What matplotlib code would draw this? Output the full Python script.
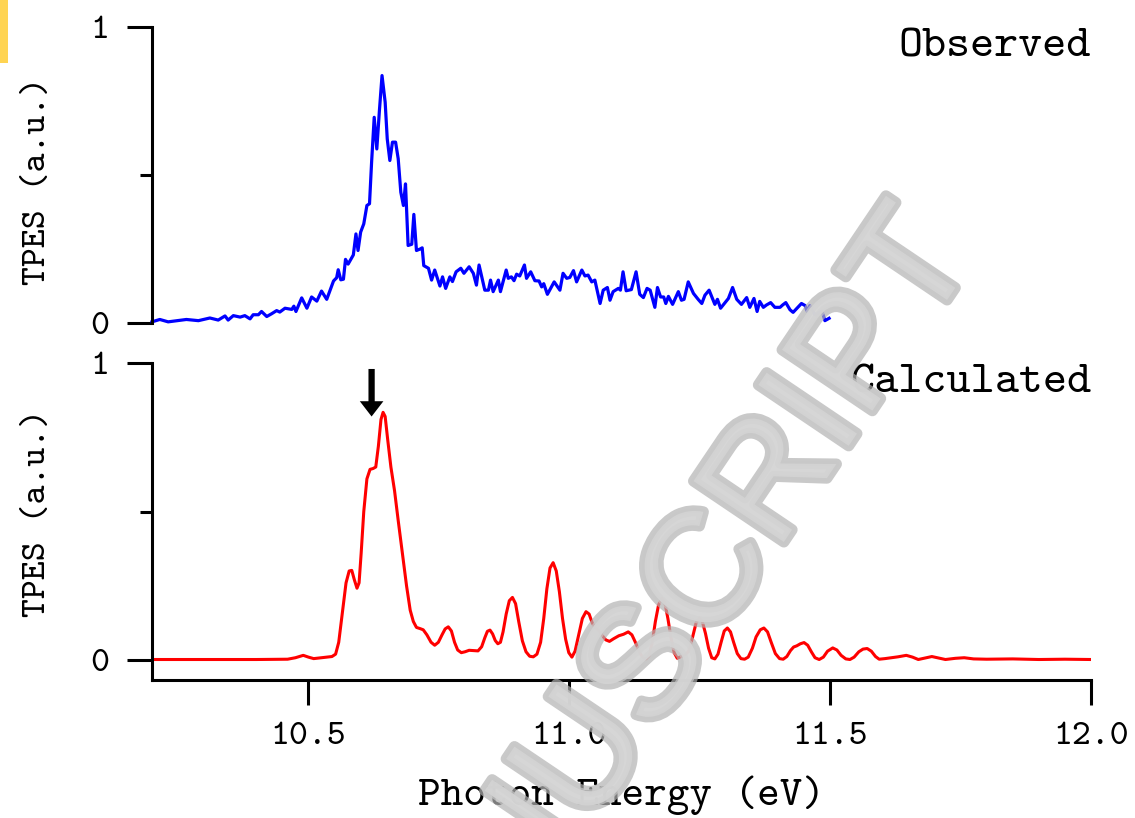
import matplotlib
matplotlib.use("Agg")
import matplotlib.pyplot as plt
import matplotlib.patheffects as pe
from matplotlib.patches import Rectangle
import numpy as np

# observed TPES (blue)
obs_e = [10.200, 10.215, 10.231, 10.266, 10.289, 10.311, 10.327, 10.340, 10.346, 10.356,
         10.369, 10.378, 10.388, 10.394, 10.404, 10.410, 10.420, 10.429, 10.439, 10.445,
         10.455, 10.468, 10.472, 10.476, 10.487, 10.497, 10.506, 10.516, 10.525, 10.535,
         10.548, 10.554, 10.557, 10.562, 10.567, 10.571, 10.576, 10.586, 10.591, 10.595,
         10.600, 10.606, 10.612, 10.617, 10.621, 10.626, 10.631, 10.636, 10.641, 10.647,
         10.651, 10.656, 10.661, 10.667, 10.672, 10.677, 10.682, 10.686, 10.691, 10.698,
         10.702, 10.707, 10.714, 10.718, 10.721, 10.730, 10.736, 10.742, 10.752, 10.757,
         10.763, 10.771, 10.776, 10.783, 10.792, 10.798, 10.808, 10.816, 10.822, 10.827,
         10.838, 10.845, 10.849, 10.854, 10.864, 10.868, 10.879, 10.883, 10.889, 10.894,
         10.899, 10.905, 10.914, 10.918, 10.926, 10.934, 10.942, 10.947, 10.951, 10.958,
         10.971, 10.982, 10.988, 10.995, 11.001, 11.008, 11.014, 11.024, 11.030, 11.036,
         11.043, 11.049, 11.059, 11.065, 11.073, 11.078, 11.084, 11.094, 11.098, 11.103,
         11.109, 11.119, 11.128, 11.135, 11.142, 11.149, 11.155, 11.164, 11.169, 11.175,
         11.181, 11.185, 11.190, 11.198, 11.209, 11.215, 11.220, 11.228, 11.238, 11.247,
         11.254, 11.260, 11.268, 11.279, 11.284, 11.290, 11.305, 11.313, 11.321, 11.330,
         11.340, 11.346, 11.354, 11.360, 11.365, 11.372, 11.378, 11.386, 11.394, 11.404,
         11.409, 11.415, 11.423, 11.429, 11.445, 11.452, 11.456, 11.461, 11.471, 11.484,
         11.490, 11.498]
obs_i = [0.004, 0.012, 0.004, 0.012, 0.008, 0.017, 0.010, 0.024, 0.010, 0.025,
         0.020, 0.025, 0.014, 0.028, 0.028, 0.039, 0.022, 0.031, 0.042, 0.037,
         0.050, 0.046, 0.057, 0.039, 0.085, 0.050, 0.088, 0.074, 0.108, 0.080,
         0.142, 0.153, 0.180, 0.146, 0.148, 0.215, 0.199, 0.230, 0.301, 0.245,
         0.307, 0.335, 0.397, 0.403, 0.543, 0.695, 0.588, 0.718, 0.836, 0.746,
         0.622, 0.549, 0.611, 0.611, 0.555, 0.442, 0.397, 0.470, 0.262, 0.266,
         0.367, 0.245, 0.250, 0.254, 0.194, 0.185, 0.145, 0.179, 0.125, 0.156,
         0.117, 0.156, 0.140, 0.173, 0.185, 0.168, 0.190, 0.168, 0.128, 0.196,
         0.111, 0.111, 0.145, 0.106, 0.145, 0.106, 0.179, 0.151, 0.156, 0.143,
         0.165, 0.159, 0.196, 0.151, 0.173, 0.143, 0.142, 0.122, 0.133, 0.097,
         0.139, 0.111, 0.168, 0.151, 0.154, 0.177, 0.139, 0.179, 0.159, 0.162,
         0.139, 0.145, 0.066, 0.111, 0.120, 0.077, 0.106, 0.117, 0.111, 0.173,
         0.109, 0.113, 0.173, 0.097, 0.086, 0.117, 0.111, 0.053, 0.120, 0.088,
         0.088, 0.066, 0.090, 0.063, 0.106, 0.077, 0.080, 0.139, 0.100, 0.080,
         0.066, 0.094, 0.111, 0.063, 0.080, 0.050, 0.083, 0.120, 0.080, 0.063,
         0.086, 0.053, 0.083, 0.039, 0.073, 0.053, 0.061, 0.069, 0.053, 0.053,
         0.061, 0.069, 0.045, 0.036, 0.066, 0.059, 0.039, 0.059, 0.027, 0.042,
         0.008, 0.016]

# calculated TPES (red)
calc_e = [10.200, 10.300, 10.400, 10.460, 10.475, 10.490, 10.500, 10.510, 10.525, 10.545,
          10.552, 10.558, 10.565, 10.572, 10.578, 10.583, 10.588, 10.593, 10.597, 10.601,
          10.606, 10.612, 10.618, 10.624, 10.629, 10.634, 10.639, 10.643, 10.647, 10.652,
          10.658, 10.665, 10.672, 10.680, 10.688, 10.695, 10.701, 10.707, 10.714, 10.720,
          10.727, 10.735, 10.742, 10.749, 10.756, 10.762, 10.768, 10.774, 10.780, 10.786,
          10.793, 10.800, 10.808, 10.816, 10.825, 10.832, 10.838, 10.843, 10.848, 10.853,
          10.858, 10.863, 10.868, 10.873, 10.879, 10.885, 10.891, 10.897, 10.903, 10.910,
          10.917, 10.924, 10.931, 10.938, 10.945, 10.951, 10.957, 10.963, 10.969, 10.975,
          10.981, 10.987, 10.993, 10.999, 11.005, 11.011, 11.018, 11.025, 11.032, 11.038,
          11.044, 11.050, 11.056, 11.062, 11.070, 11.077, 11.085, 11.095, 11.104, 11.113,
          11.120, 11.128, 11.135, 11.141, 11.147, 11.153, 11.159, 11.165, 11.171, 11.177,
          11.183, 11.189, 11.195, 11.201, 11.207, 11.214, 11.222, 11.229, 11.236, 11.243,
          11.249, 11.255, 11.261, 11.267, 11.273, 11.279, 11.285, 11.291, 11.297, 11.303,
          11.309, 11.315, 11.322, 11.329, 11.336, 11.343, 11.351, 11.358, 11.366, 11.373,
          11.380, 11.387, 11.395, 11.403, 11.410, 11.417, 11.424, 11.430, 11.436, 11.443,
          11.450, 11.457, 11.464, 11.471, 11.479, 11.487, 11.495, 11.505, 11.513, 11.521,
          11.530, 11.538, 11.546, 11.555, 11.563, 11.571, 11.579, 11.587, 11.594, 11.605,
          11.617, 11.630, 11.646, 11.658, 11.669, 11.682, 11.695, 11.708, 11.721, 11.740,
          11.757, 11.775, 11.800, 11.850, 11.900, 11.950, 12.000]
calc_i = [0.002, 0.002, 0.002, 0.003, 0.008, 0.016, 0.010, 0.005, 0.008, 0.012,
          0.020, 0.060, 0.160, 0.260, 0.300, 0.302, 0.270, 0.242, 0.260, 0.360,
          0.500, 0.610, 0.642, 0.645, 0.650, 0.720, 0.810, 0.834, 0.820, 0.740,
          0.650, 0.570, 0.470, 0.360, 0.250, 0.168, 0.130, 0.110, 0.106, 0.102,
          0.085, 0.060, 0.050, 0.060, 0.085, 0.105, 0.112, 0.098, 0.060, 0.034,
          0.025, 0.028, 0.033, 0.032, 0.031, 0.045, 0.075, 0.097, 0.101, 0.088,
          0.066, 0.055, 0.060, 0.095, 0.155, 0.200, 0.211, 0.190, 0.130, 0.065,
          0.028, 0.013, 0.011, 0.020, 0.060, 0.140, 0.240, 0.310, 0.328, 0.300,
          0.230, 0.140, 0.070, 0.025, 0.010, 0.030, 0.085, 0.140, 0.163, 0.155,
          0.125, 0.108, 0.100, 0.085, 0.068, 0.063, 0.072, 0.082, 0.087, 0.095,
          0.085, 0.055, 0.025, 0.008, 0.004, 0.015, 0.060, 0.130, 0.185, 0.209,
          0.195, 0.140, 0.075, 0.025, 0.006, 0.012, 0.018, 0.030, 0.075, 0.125,
          0.142, 0.130, 0.090, 0.040, 0.008, 0.004, 0.020, 0.060, 0.098, 0.108,
          0.095, 0.060, 0.022, 0.005, 0.003, 0.010, 0.040, 0.078, 0.102, 0.108,
          0.095, 0.060, 0.022, 0.005, 0.003, 0.012, 0.032, 0.044, 0.048, 0.055,
          0.059, 0.050, 0.028, 0.008, 0.002, 0.010, 0.030, 0.041, 0.034, 0.016,
          0.004, 0.002, 0.010, 0.028, 0.037, 0.039, 0.030, 0.012, 0.003, 0.005,
          0.008, 0.011, 0.016, 0.010, 0.002, 0.007, 0.012, 0.007, 0.002, 0.006,
          0.008, 0.004, 0.003, 0.004, 0.002, 0.003, 0.002]

x_ticks = [10.5, 11.0, 11.5, 12.0]
x_ticklabels = ["10.5", "11.0", "11.5", "12.0"]
arrow_e = 10.621

# typewriter face shipped with matplotlib
font = "cmtt10"
plt.rcParams["font.family"] = [font, "DejaVu Sans"]

fig = plt.figure(figsize=(11.35, 8.18), dpi=100)
ax_top = fig.add_axes([0.1339, 0.6051, 0.8273, 0.3619])
ax_bot = fig.add_axes([0.1339, 0.1687, 0.8273, 0.3875], sharex=ax_top)

lw_ax = 2.2
for ax in (ax_top, ax_bot):
    for s in ("top", "right"):
        ax.spines[s].set_visible(False)
    ax.spines["left"].set_linewidth(lw_ax)
    ax.spines["bottom"].set_linewidth(lw_ax)
    ax.set_yticks([0, 1])
    ax.set_yticklabels(["0", "1"])
    ax.set_yticks([0.5], minor=True)
    ax.tick_params(axis="y", which="major", direction="out", length=18, width=lw_ax,
                   pad=13, labelsize=26)
    ax.tick_params(axis="y", which="minor", direction="out", length=9, width=lw_ax)
    ax.set_ylabel("TPES (a.u.)", fontsize=26)

ax_top.spines["bottom"].set_visible(False)
ax_top.tick_params(axis="x", which="both", bottom=False, labelbottom=False)
ax_top.set_ylim(0, 1)
ax_top.set_xlim(10.2, 12.0)
ax_top.plot(obs_e, obs_i, color="#0000ff", lw=2.3, clip_on=False)
ax_top.text(1.0, 0.93, "Observed", transform=ax_top.transAxes,
            ha="right", va="center", fontsize=33)
ax_top.yaxis.set_label_coords(-0.105, 0.48)

ax_bot.set_ylim(-0.067, 1)
ax_bot.plot(calc_e, calc_i, color="#ff0000", lw=2.2)
ax_bot.set_xticks(x_ticks)
ax_bot.set_xticklabels(x_ticklabels)
ax_bot.tick_params(axis="x", direction="out", length=18, width=lw_ax, pad=12, labelsize=26)
ax_bot.set_xlabel("Photon Energy (eV)", fontsize=31, labelpad=17)
ax_bot.text(1.0, 0.93, "Calculated", transform=ax_bot.get_yaxis_transform(),
            ha="right", va="center", fontsize=33)
ax_bot.yaxis.set_label_coords(-0.105, 0.527)
ax_bot.annotate("", xy=(arrow_e, 0.82), xytext=(arrow_e, 0.98),
                arrowprops=dict(facecolor="black", edgecolor="none", width=4.5,
                                headwidth=17, headlength=11))

# corner mark and watermark
fig.patches.append(Rectangle((0, 0.923), 0.007, 0.077, transform=fig.transFigure,
                             facecolor="#ffd452", edgecolor="none"))
fig.text(0.862, 0.690, "MANUSCRIPT", rotation=56, rotation_mode="anchor",
         ha="right", va="baseline", fontsize=114, family="Liberation Sans",
         color="#d6d6d6", alpha=0.7, zorder=10,
         path_effects=[pe.Stroke(linewidth=8, foreground="#b2b2b2"),
                       pe.Stroke(linewidth=3, foreground="#c8c8c8"),
                       pe.Normal()])

fig.savefig("out.png", dpi=100)
